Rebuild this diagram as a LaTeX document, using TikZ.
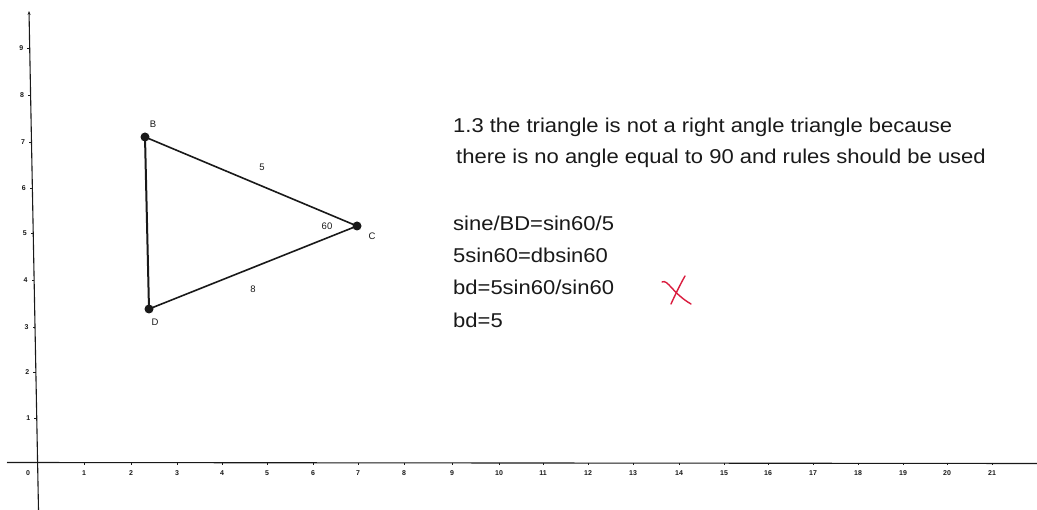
\documentclass[tikz,border=0pt]{standalone}
\usepackage{fontspec}
\setmainfont{Liberation Sans}
\newfontfamily\widesans[FakeStretch=1.1]{Liberation Sans}
\usetikzlibrary{arrows.meta}
\definecolor{penred}{RGB}{218,28,62}
\definecolor{ink}{RGB}{25,25,25}
\begin{document}
\begin{tikzpicture}[x=1pt,y=-1pt,
  axisline/.style={draw=ink,line width=1.1pt},
  ticklbl/.style={font=\fontsize{7}{8}\selectfont\bfseries,text=ink,inner sep=0pt},
  vlabel/.style={font=\fontsize{9.5}{10}\selectfont,text=ink,inner sep=0pt},
  side/.style={draw=ink,line width=1.6pt},
  vdot/.style={circle,fill=ink,minimum size=9pt,inner sep=0pt},
  bigtext/.style={font=\widesans\fontsize{20}{22}\selectfont,text=ink,inner sep=0pt,anchor=west},
  redmark/.style={draw=penred,line width=1.4pt,line cap=round}]
\useasboundingbox[fill=white] (0,0) rectangle (1037,510);
% axes
\coordinate (xa0) at (7,462.5);
\coordinate (xa1) at (1037,463.5);
\coordinate (ya0) at (38.5,510);
\coordinate (ya1) at (29,11);
\draw[axisline] (xa0) -- (xa1);
\draw[axisline,-{Stealth[length=4pt,width=3pt]}] (ya0) -- (ya1);
\node[ticklbl] (x0) at (28,473) {0};
\foreach \n/\x in {1/84,2/131,3/177,4/222,5/267,6/313,7/358,8/404,9/452,10/499,11/543,12/588,13/633,14/679,15/724,16/768,17/813,18/858,19/903,20/947,21/992}{
  \coordinate (xt\n) at (\x,463);
  \draw[ink,line width=0.8pt] (xt\n) -- ++(0,2);
  \node[ticklbl] (xl\n) at (\x,473) {\n};
}
\foreach \n/\y in {1/418,2/372,3/327,4/280,5/233,6/188,7/142,8/95,9/48}{
  \pgfmathsetmacro{\ax}{29+(\y-11)*9.5/499}
  \coordinate (yt\n) at (\ax,\y);
  \draw[ink,line width=0.8pt] (yt\n) -- ++(-2.5,0);
  \node[ticklbl] (yl\n) at (\ax-8.5,\y) {\n};
}
% triangle
\node[vdot] (B) at (145,137) {};
\node[vdot] (C) at (357,226) {};
\node[vdot] (D) at (149,309) {};
\draw[side] (B.center) -- (C.center);
\draw[side] (C.center) -- (D.center);
\draw[side,line width=2pt] (D.center) -- (B.center);
\node[vlabel] (lB) at (153,124) {B};
\node[vlabel] (lC) at (372,236) {C};
\node[vlabel] (lD) at (155,322) {D};
\node[vlabel] (l5) at (262,167) {5};
\node[vlabel] (l60) at (327,226) {60};
\node[vlabel] (l8) at (253,289) {8};
% text
\node[bigtext] (t1) at (453,127) {1.3 the triangle is not a right angle triangle because};
\node[bigtext] (t2) at (456,158) {there is no angle equal to 90 and rules should be used};
\node[bigtext] (t3) at (453,223) {sine/BD=sin60/5};
\node[bigtext] (t4) at (453,255) {5sin60=dbsin60};
\node[bigtext] (t5) at (453,287) {bd=5sin60/sin60};
\node[bigtext] (t6) at (453,320) {bd=5};
% red mark
\coordinate (r1) at (662,282);
\coordinate (r2) at (691,304);
\coordinate (r3) at (685,276);
\coordinate (r4) at (671,304);
\draw[redmark] (r1) .. controls (668,279) and (672,293) .. (r2);
\draw[redmark] (r3) .. controls (681,283) and (676,293) .. (r4);
\end{tikzpicture}
\end{document}
